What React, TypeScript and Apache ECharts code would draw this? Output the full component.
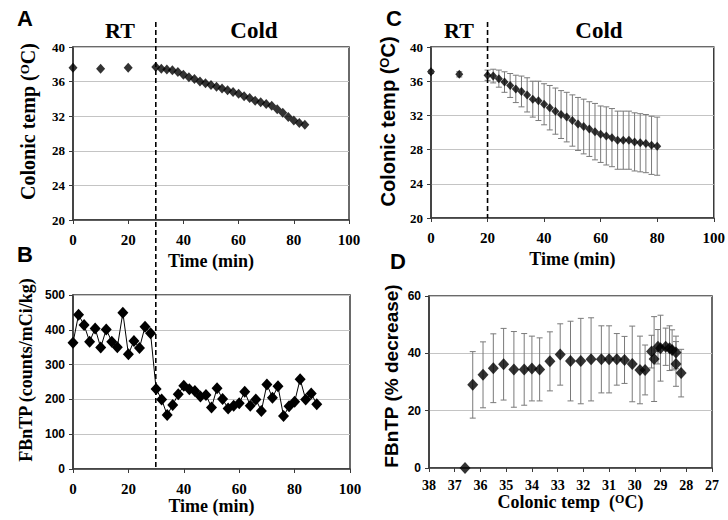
import React, { useEffect, useRef } from 'react';
import * as echarts from 'echarts';

// Panel A: colonic temperature, single animal
const aRtTime = [0, 10, 20];
const aRtTemp = [37.6, 37.5, 37.6];
const aColdTime = [30, 32, 34, 36, 38, 40, 42, 44, 46, 48, 50, 52, 54, 56, 58, 60, 62, 64, 66, 68, 70, 72, 74, 76, 78, 80, 82, 84];
const aColdTemp = [37.7, 37.5, 37.4, 37.3, 37.1, 36.8, 36.5, 36.3, 36.0, 35.8, 35.6, 35.4, 35.2, 35.0, 34.8, 34.6, 34.3, 34.1, 33.8, 33.6, 33.4, 33.2, 32.8, 32.4, 31.9, 31.5, 31.2, 31.0];

// Panel B: FBnTP counts
const bTime = [0, 2, 4, 6, 8, 10, 12, 14, 16, 18, 20, 22, 24, 26, 28, 30, 32, 34, 36, 38, 40, 42, 44, 46, 48, 50, 52, 54, 56, 58, 60, 62, 64, 66, 68, 70, 72, 74, 76, 78, 80, 82, 84, 86, 88];
const bValue = [363, 443, 414, 366, 404, 349, 401, 366, 350, 449, 330, 368, 348, 409, 390, 230, 200, 155, 184, 215, 239, 229, 224, 208, 213, 177, 232, 201, 174, 182, 189, 222, 182, 200, 167, 243, 205, 238, 152, 180, 193, 258, 200, 217, 186];

// Panel C: mean colonic temperature with SD
const cRtTime = [0, 10];
const cRtTemp = [37.1, 36.8];
const cRtSd = [0.2, 0.3];
const cColdTime = [20, 22, 24, 26, 28, 30, 32, 34, 36, 38, 40, 42, 44, 46, 48, 50, 52, 54, 56, 58, 60, 62, 64, 66, 68, 70, 72, 74, 76, 78, 80];
const cColdTemp = [36.7, 36.6, 36.3, 35.9, 35.5, 35.1, 34.8, 34.4, 33.9, 33.7, 33.3, 32.9, 32.5, 32.1, 31.8, 31.4, 31.0, 30.7, 30.4, 30.1, 29.8, 29.6, 29.4, 29.1, 29.1, 29.1, 28.9, 28.8, 28.7, 28.5, 28.4];
const cColdSd = [0.6, 0.8, 1.0, 1.2, 1.4, 1.6, 1.8, 2.0, 2.1, 2.3, 2.4, 2.6, 2.7, 2.8, 2.9, 3.0, 3.1, 3.2, 3.2, 3.3, 3.3, 3.4, 3.4, 3.4, 3.4, 3.4, 3.4, 3.4, 3.4, 3.4, 3.4];

// Panel D: FBnTP % decrease vs colonic temp
const dTemp = [36.6, 36.3, 35.9, 35.5, 35.1, 34.7, 34.3, 34.0, 33.7, 33.3, 32.9, 32.5, 32.1, 31.7, 31.3, 31.0, 30.7, 30.4, 30.1, 29.8, 29.6, 29.35, 29.25, 29.1, 29.0, 28.8, 28.65, 28.55, 28.4, 28.4, 28.2];
const dDecrease = [0, 29.0, 32.5, 34.8, 36.2, 34.4, 34.4, 34.7, 34.4, 37.2, 39.6, 37.3, 37.3, 37.9, 37.9, 37.9, 37.9, 37.7, 36.3, 34.2, 34.2, 40.6, 38.0, 42.3, 41.8, 42.3, 41.8, 41.2, 40.3, 36.3, 33.1];
const dSd = [0, 11.6, 11.5, 12.0, 12.5, 13.2, 12.5, 11.3, 11.0, 10.3, 10.7, 13.9, 14.9, 14.5, 11.7, 11.7, 9.0, 8.2, 13.2, 11.8, 8.7, 5.7, 14.8, 6.0, 11.5, 6.5, 7.8, 7.0, 5.7, 7.8, 8.3];

const coldStartAB = 30;
const coldStartC = 20;

const serif = '"Liberation Serif", "Times New Roman", serif';
const sans = '"Liberation Sans", Arial, sans-serif';
const dark = '#3a3a3a';
const gridGray = '#c4c4c4';
const errGray = '#7a7a7a';

const zip = (xs: number[], ys: number[], es?: number[]) =>
  xs.map((x, i) => (es ? [x, ys[i], es[i]] : [x, ys[i]]));

const supRich = (size: number, family: string) => ({
  s: { fontFamily: family, fontWeight: 'bold', fontSize: size, verticalAlign: 'top', color: '#000' },
});

function xAxis(gridIndex: number, opts: any) {
  return {
    type: 'value',
    gridIndex,
    nameLocation: 'middle',
    axisLine: { show: true, onZero: false, lineStyle: { color: dark, width: 1.5 } },
    axisTick: { show: true, length: 4, lineStyle: { color: dark } },
    splitLine: { show: false },
    axisLabel: { fontFamily: serif, fontWeight: 'bold', fontSize: 15, color: '#000', margin: 12 },
    nameTextStyle: { fontFamily: serif, fontWeight: 'bold', fontSize: 18, color: '#000' },
    ...opts,
  };
}

function yAxis(gridIndex: number, labelFamily: string, opts: any) {
  return {
    type: 'value',
    gridIndex,
    nameLocation: 'middle',
    nameRotate: 90,
    axisLine: { show: true, onZero: false, lineStyle: { color: dark, width: 1.5 } },
    axisTick: { show: true, length: 4, lineStyle: { color: dark } },
    splitLine: { show: true, lineStyle: { color: gridGray, width: 1 } },
    axisLabel: { fontFamily: labelFamily, fontWeight: 'bold', fontSize: labelFamily === sans ? 12 : 13, color: '#000', margin: 8 },
    ...opts,
  };
}

function errorSeries(idx: number, data: number[][], cap: number) {
  return {
    type: 'custom',
    xAxisIndex: idx,
    yAxisIndex: idx,
    silent: true,
    z: 1,
    data,
    encode: { x: 0, y: 1 },
    renderItem: (_p: any, api: any) => {
      const x = api.value(0);
      const y = api.value(1);
      const e = api.value(2);
      if (!e) return null;
      const hi = api.coord([x, y + e]);
      const lo = api.coord([x, y - e]);
      const st = { stroke: errGray, lineWidth: 1 };
      return {
        type: 'group',
        children: [
          { type: 'line', shape: { x1: hi[0], y1: hi[1], x2: lo[0], y2: lo[1] }, style: st },
          { type: 'line', shape: { x1: hi[0] - cap, y1: hi[1], x2: hi[0] + cap, y2: hi[1] }, style: st },
          { type: 'line', shape: { x1: lo[0] - cap, y1: lo[1], x2: lo[0] + cap, y2: lo[1] }, style: st },
        ],
      };
    },
  };
}

function scatter(idx: number, data: number[][], size: number[]) {
  return {
    type: 'scatter',
    xAxisIndex: idx,
    yAxisIndex: idx,
    symbol: 'diamond',
    symbolSize: size,
    itemStyle: { color: '#000' },
    z: 3,
    data,
  };
}

export default function App() {
  const ref = useRef<HTMLDivElement>(null);
  useEffect(() => {
    if (!ref.current) return;
    const chart = echarts.init(ref.current, undefined, { renderer: 'svg' });
    const gridBase = { show: true, borderColor: dark, borderWidth: 1.5, backgroundColor: 'transparent' };
    const tempName = 'Colonic temp ({s|O}C)';
    chart.setOption({
      animation: false,
      backgroundColor: '#fff',
      grid: [
        { ...gridBase, left: 73, top: 47, width: 276, height: 173 },
        { ...gridBase, left: 73, top: 295, width: 277, height: 174 },
        { ...gridBase, left: 431, top: 47, width: 284, height: 171 },
        { ...gridBase, left: 429, top: 296, width: 283, height: 172 },
      ],
      xAxis: [
        xAxis(0, { min: 0, max: 100, interval: 20, name: 'Time (min)', nameGap: 32 }),
        xAxis(1, { min: 0, max: 100, interval: 20, name: 'Time (min)', nameGap: 25 }),
        xAxis(2, { min: 0, max: 100, interval: 20, name: 'Time (min)', nameGap: 32 }),
        xAxis(3, {
          min: 27, max: 38, interval: 1, inverse: true,
          name: 'Colonic temp  ({s|O}C)', nameGap: 24,
          axisLabel: { fontFamily: serif, fontWeight: 'bold', fontSize: 14, color: '#000', margin: 10 },
          nameTextStyle: { fontFamily: serif, fontWeight: 'bold', fontSize: 18, color: '#000', rich: supRich(12, serif) },
        }),
      ],
      yAxis: [
        yAxis(0, serif, {
          min: 20, max: 40, interval: 4, name: tempName, nameGap: 35,
          nameTextStyle: { fontFamily: serif, fontWeight: 'bold', fontSize: 20, color: '#000', padding: [0, 0, 0, 24], rich: supRich(13, serif) },
        }),
        yAxis(1, sans, {
          min: 0, max: 500, interval: 100, name: 'FBnTP (counts/mCi/kg)', nameGap: 38,
          nameTextStyle: { fontFamily: serif, fontWeight: 'bold', fontSize: 18, color: '#000', padding: [0, 0, 0, 24] },
        }),
        yAxis(2, serif, {
          min: 20, max: 40, interval: 4, name: tempName, nameGap: 33,
          nameTextStyle: { fontFamily: sans, fontWeight: 'bold', fontSize: 20, color: '#000', padding: [0, 0, 0, 22], rich: supRich(13, sans) },
        }),
        yAxis(3, sans, {
          min: 0, max: 60, interval: 20, name: 'FBnTP (% decrease)', nameGap: 28,
          nameTextStyle: { fontFamily: sans, fontWeight: 'bold', fontSize: 19, color: '#000', padding: [0, 0, 0, 12] },
        }),
      ],
      series: [
        scatter(0, zip(aRtTime, aRtTemp), [9, 10]),
        scatter(0, zip(aColdTime, aColdTemp), [9, 10]),
        {
          type: 'line',
          xAxisIndex: 1,
          yAxisIndex: 1,
          symbol: 'diamond',
          symbolSize: [11, 12],
          showAllSymbol: true,
          lineStyle: { color: '#000', width: 1 },
          itemStyle: { color: '#000' },
          z: 3,
          data: zip(bTime, bValue),
        },
        errorSeries(2, zip(cRtTime, cRtTemp, cRtSd), 3),
        errorSeries(2, zip(cColdTime, cColdTemp, cColdSd), 3),
        scatter(2, zip(cRtTime, cRtTemp), [8, 9]),
        scatter(2, zip(cColdTime, cColdTemp), [8, 9]),
        errorSeries(3, zip(dTemp, dDecrease, dSd), 3),
        scatter(3, zip(dTemp, dDecrease), [11, 12]),
      ],
    });

    const pA = chart.convertToPixel({ gridIndex: 0 } as any, [coldStartAB, 40]) as number[];
    const pB = chart.convertToPixel({ gridIndex: 1 } as any, [coldStartAB, 0]) as number[];
    const pC = chart.convertToPixel({ gridIndex: 2 } as any, [coldStartC, 20]) as number[];
    const dash = { stroke: '#000', lineWidth: 1.6, lineDash: [5, 3] };
    const txt = (text: string, x: number, y: number, font: string, align = 'center') => ({
      type: 'text',
      style: { text, x, y, font, fill: '#000', textAlign: align, textVerticalAlign: 'middle', align, verticalAlign: 'middle' },
      z: 10,
    });
    const big = `bold 22px ${serif}`;
    const letter = `bold 22px ${sans}`;
    chart.setOption({
      graphic: [
        { type: 'line', shape: { x1: pA[0], y1: 22, x2: pA[0], y2: pB[1] }, style: dash, z: 5 },
        { type: 'line', shape: { x1: pC[0], y1: 22, x2: pC[0], y2: pC[1] }, style: dash, z: 5 },
        txt('A', 17, 18, letter, 'left'),
        txt('B', 17, 254, letter, 'left'),
        txt('C', 386, 18, letter, 'left'),
        txt('D', 390, 261, letter, 'left'),
        txt('RT', 120, 30, big),
        txt('Cold', 254, 30, `bold 23px ${serif}`),
        txt('RT', 459, 30, big),
        txt('Cold', 599, 30, `bold 23px ${serif}`),
      ],
    });
    return () => chart.dispose();
  }, []);
  return <div ref={ref} style={{ position: 'absolute', left: 0, top: 0, width: 728, height: 520 }} />;
}
